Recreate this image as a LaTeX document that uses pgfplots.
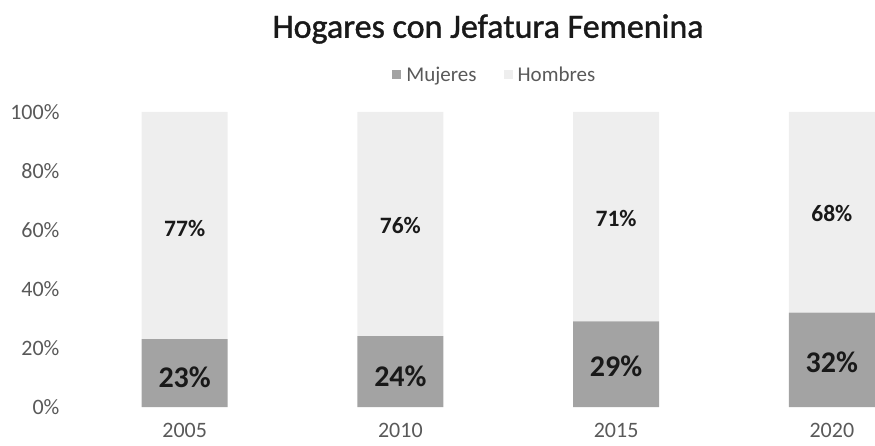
\documentclass[border=0pt]{standalone}
\usepackage{pgfplots}
\pgfplotsset{compat=1.18}
\usepackage{fontspec}
\setmainfont{Carlito}
\newfontfamily\titlefont[FakeBold=1.2]{Carlito}
\definecolor{muj}{HTML}{A3A3A3}
\definecolor{hom}{HTML}{EEEEEE}
\definecolor{tickgray}{HTML}{595959}
\pgfplotsset{
  base/.style={
    at={(66pt,38pt)}, anchor=south west,
    scale only axis, width=809pt, height=295pt,
    xmin=-0.55, xmax=3.2, ymin=0, ymax=100,
  }
}
\begin{document}
\begin{tikzpicture}[x=1pt,y=1pt]
\useasboundingbox (0,0) rectangle (875,445);
\node[font=\fontsize{34}{41}\titlefont, text=black!90] at (488,416) {Hogares con Jefatura Femenina};
\begin{axis}[base,
  ybar stacked, bar width=86pt,
  axis line style={draw=none},
  major tick length=0pt,
  ytick={0,20,40,60,80,100},
  yticklabel={\pgfmathprintnumber{\tick}\%},
  xtick={0,1,2,3},
  xticklabels={2005,2010,2015,2020},
  /pgf/number format/assume math mode=true,
  tick label style={font=\fontsize{22}{26}\selectfont, text=tickgray},
  yticklabel style={xshift=-3pt},
  xticklabel style={yshift=-13pt},
  legend style={at={(0.532,1.125)}, anchor=center, draw=none, fill=none,
    legend columns=2, font=\fontsize{21}{25}\selectfont, text=tickgray,
    /tikz/every even column/.append style={column sep=22pt},
    nodes={inner xsep=5pt}},
  legend image code/.code={\fill[#1] (0pt,-4pt) rectangle (9pt,5pt);},
]
\addplot[fill=muj, draw=none] coordinates {(0,23) (1,24) (2,29) (3,32)};
\addplot[fill=hom, draw=none] coordinates {(0,77) (1,76) (2,71) (3,68)};
\legend{Mujeres, Hombres}
\end{axis}
\begin{axis}[base, hide axis]
\addplot[only marks, mark=none, nodes near coords, point meta=explicit symbolic,
  nodes near coords style={font=\fontsize{30}{36}\selectfont\bfseries, anchor=center, text=black!90}]
  coordinates {(0,10)[23\%] (1,10.5)[24\%] (2,13.8)[29\%] (3,15)[32\%]};
\addplot[only marks, mark=none, nodes near coords, point meta=explicit symbolic,
  nodes near coords style={font=\fontsize{23.5}{28}\selectfont\bfseries, anchor=center, text=black!90}]
  coordinates {(0,60.5)[77\%] (1,61.5)[76\%] (2,64)[71\%] (3,65.5)[68\%]};
\end{axis}
\end{tikzpicture}
\end{document}
